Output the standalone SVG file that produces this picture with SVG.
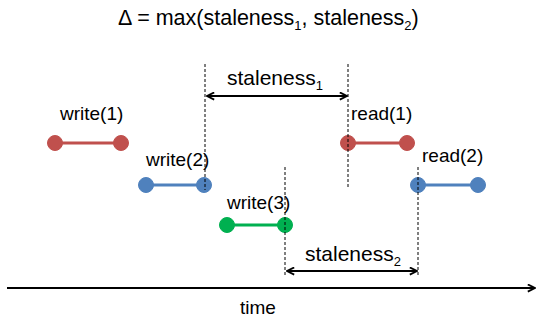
<svg xmlns="http://www.w3.org/2000/svg" width="539" height="320" viewBox="0 0 539 320">
<style>
text{font-family:"Liberation Sans",Arial,sans-serif;fill:#000}
.lbl{font-size:19px}
.big{font-size:21px}
.ttl{font-size:21.5px}
.sub{font-size:13px}
.dash{stroke:#000;stroke-width:1;stroke-dasharray:3 2;fill:none}
.arr{stroke:#000;stroke-width:2;fill:none}
.red{stroke:#C0504D;fill:#C0504D}
.blue{stroke:#4F81BD;fill:#4F81BD}
.green{stroke:#00B050;fill:#00B050}
.seg{stroke-width:3}
</style>
<defs>
<marker id="ah" viewBox="0 0 10 10" refX="9" refY="5" markerWidth="4.5" markerHeight="4.5" orient="auto-start-reverse" markerUnits="strokeWidth">
<path d="M1,1 L9,5 L1,9" fill="none" stroke="#000" stroke-width="2"/>
</marker>
</defs>
<text id="title" class="ttl" x="118" y="25">Δ = max(staleness<tspan class="sub" dy="5">1</tspan><tspan dy="-5">, staleness</tspan><tspan class="sub" dy="5">2</tspan><tspan dy="-5">)</tspan></text>
<g id="staleness1"><text class="big" x="227" y="85">staleness<tspan class="sub" dy="5">1</tspan></text></g>
<g id="staleness2"><text class="big" x="305" y="261">staleness<tspan class="sub" dy="5">2</tspan></text></g>
<g id="time"><text class="lbl" x="240" y="314">time</text></g>
<g id="write1">
<text class="lbl" x="60" y="120">write(1)</text>
<line class="red seg" x1="55" y1="143" x2="121" y2="143"/>
<circle class="red" cx="55" cy="143" r="7.5"/><circle class="red" cx="121" cy="143" r="7.5"/>
</g>
<g id="write2">
<text class="lbl" x="146" y="166">write(2)</text>
<line class="blue seg" x1="146" y1="185" x2="204" y2="185"/>
<circle class="blue" cx="146" cy="185" r="7.5"/><circle class="blue" cx="204" cy="185" r="7.5"/>
</g>
<g id="write3">
<text class="lbl" x="227" y="209">write(3)</text>
<line class="green seg" x1="227" y1="225" x2="285" y2="225"/>
<circle class="green" cx="227" cy="225" r="7.5"/><circle class="green" cx="285" cy="225" r="7.5"/>
</g>
<g id="read1">
<text class="lbl" x="351" y="120">read(1)</text>
<line class="red seg" x1="348" y1="143" x2="407" y2="143"/>
<circle class="red" cx="348" cy="143" r="7.5"/><circle class="red" cx="407" cy="143" r="7.5"/>
</g>
<g id="read2">
<text class="lbl" x="422" y="162">read(2)</text>
<line class="blue seg" x1="418" y1="185" x2="478" y2="185"/>
<circle class="blue" cx="418" cy="185" r="7.5"/><circle class="blue" cx="478" cy="185" r="7.5"/>
</g>
<g id="connectors">
<line class="dash" x1="205" y1="64" x2="205" y2="190"/>
<line class="dash" x1="348" y1="64" x2="348" y2="189"/>
<line class="dash" x1="285" y1="167" x2="285" y2="277"/>
<line class="dash" x1="418" y1="167" x2="418" y2="277"/>
<line class="arr" x1="207" y1="96" x2="347" y2="96" marker-start="url(#ah)" marker-end="url(#ah)"/>
<line class="arr" x1="287" y1="271" x2="417" y2="271" marker-start="url(#ah)" marker-end="url(#ah)"/>
<line class="arr" x1="7" y1="288" x2="535" y2="288" stroke-width="2.5" marker-end="url(#ah)"/>
</g>
</svg>
